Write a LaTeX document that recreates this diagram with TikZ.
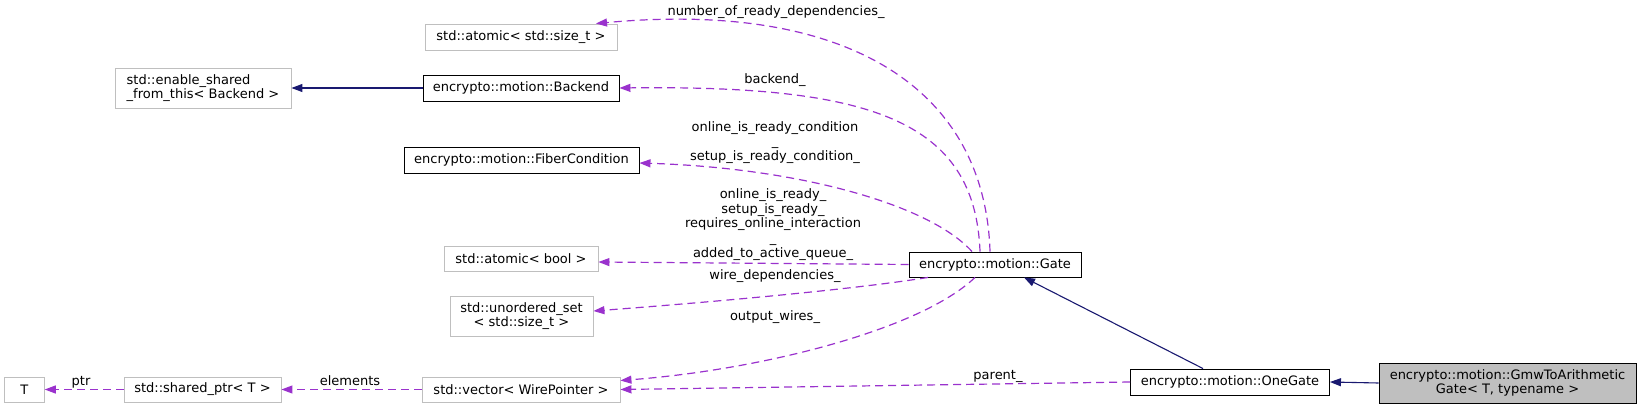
\documentclass[tikz,border=0pt]{standalone}
\usepackage{fontspec}
\setmainfont{DejaVu Sans}
\usetikzlibrary{arrows.meta}
\definecolor{edgepurple}{HTML}{9A32CD}
\definecolor{navyedge}{HTML}{191970}
\definecolor{graybox}{HTML}{BFBFBF}
\begin{document}
\begin{tikzpicture}[x=1pt,y=-1pt,
 every node/.style={font=\fontsize{13}{14.7}\selectfont, inner sep=0pt},
 cls/.style={draw=black, line width=0.9pt, minimum height=26pt, align=center},
 ext/.style={draw=graybox, line width=0.9pt, minimum height=26pt, align=center},
 dep/.style={draw=edgepurple, line width=1.2pt, dash pattern=on 8pt off 5pt, -{Triangle[length=11pt,width=8pt]}},
 inh/.style={draw=navyedge, line width=1.1pt, -{Triangle[length=11pt,width=8pt]}},
 lbl/.style={align=center}]
\useasboundingbox (0,0) rectangle (1641,409);

% nodes
\node[ext, minimum width=192pt] (atomicsz) at (521,37) {std::atomic< std::size\_t >};
\node[cls, minimum width=196pt] (backend) at (521,88) {encrypto::motion::Backend};
\node[ext, minimum width=176pt, minimum height=40pt, align=left] (enable) at (203,88) {std::enable\_shared\\\_from\_this< Backend >};
\node[cls, minimum width=235pt] (fiber) at (521.5,160) {encrypto::motion::FiberCondition};
\node[ext, minimum width=154pt, minimum height=25pt] (abool) at (521,259) {std::atomic< bool >};
\node[ext, minimum width=143pt, minimum height=40pt] (uset) at (521.5,316) {std::unordered\_set\\< std::size\_t >};
\node[ext, minimum width=198pt, minimum height=25pt] (vector) at (521,389.5) {std::vector< WirePointer >};
\node[ext, minimum width=157pt, minimum height=25pt] (sptr) at (202.5,389.5) {std::shared\_ptr< T >};
\node[ext, minimum width=40pt, minimum height=25pt] (T) at (24.3,389.5) {T};
\node[cls, minimum width=172pt, minimum height=25pt] (gate) at (995,264.5) {encrypto::motion::Gate};
\node[cls, minimum width=199pt] (onegate) at (1230,382) {encrypto::motion::OneGate};
\node[cls, fill=graybox, minimum width=257pt, minimum height=40pt] (gmw) at (1507.5,383) {encrypto::motion::GmwToArithmetic\\Gate< T, typename >};

% labels
\node[lbl] (lnum) at (776,12) {number\_of\_ready\_dependencies\_};
\node[lbl] (lback) at (775,80) {backend\_};
\node[lbl] (lfib) at (775,142.5) {online\_is\_ready\_condition\\\_\\setup\_is\_ready\_condition\_};
\node[lbl] (lbool) at (773,224.5) {online\_is\_ready\_\\setup\_is\_ready\_\\requires\_online\_interaction\\\_\\added\_to\_active\_queue\_};
\node[lbl] (lwire) at (775,276) {wire\_dependencies\_};
\node[lbl] (lout) at (775,317) {output\_wires\_};
\node[lbl] (lpar) at (998,376) {parent\_};
\node[lbl] (lel) at (350,381) {elements};
\node[lbl] (lptr) at (81,382) {ptr};

% inheritance
\draw[inh] (backend.west) -- (enable.east);
\draw[inh] ([xshift=-27pt]onegate.north) -- ([xshift=29pt]gate.south);
\draw[inh] (gmw.west) -- (onegate.east);

% dependencies
\draw[dep] ([xshift=-5pt]gate.north) .. controls (985,90) and (850,0) .. ([xshift=75pt]atomicsz.north);
\draw[dep] ([xshift=-15pt]gate.north) .. controls (975,120) and (870,85) .. (backend.east);
\draw[dep] ([xshift=-23pt]gate.north) .. controls (930,205) and (800,168) .. ([yshift=-3pt]fiber.east);
\draw[dep] (gate.west) -- ([yshift=-3pt]abool.east);
\draw[dep] ([xshift=-67pt]gate.south) .. controls (850,290) and (700,303) .. ([yshift=5pt]uset.east);
\draw[dep] ([xshift=-20pt]gate.south) .. controls (920,330) and (760,370) .. ([yshift=9pt]vector.east);
\draw[dep] (onegate.west) -- (vector.east);
\draw[dep] (vector.west) -- (sptr.east);
\draw[dep] (sptr.west) -- (T.east);
\end{tikzpicture}
\end{document}
